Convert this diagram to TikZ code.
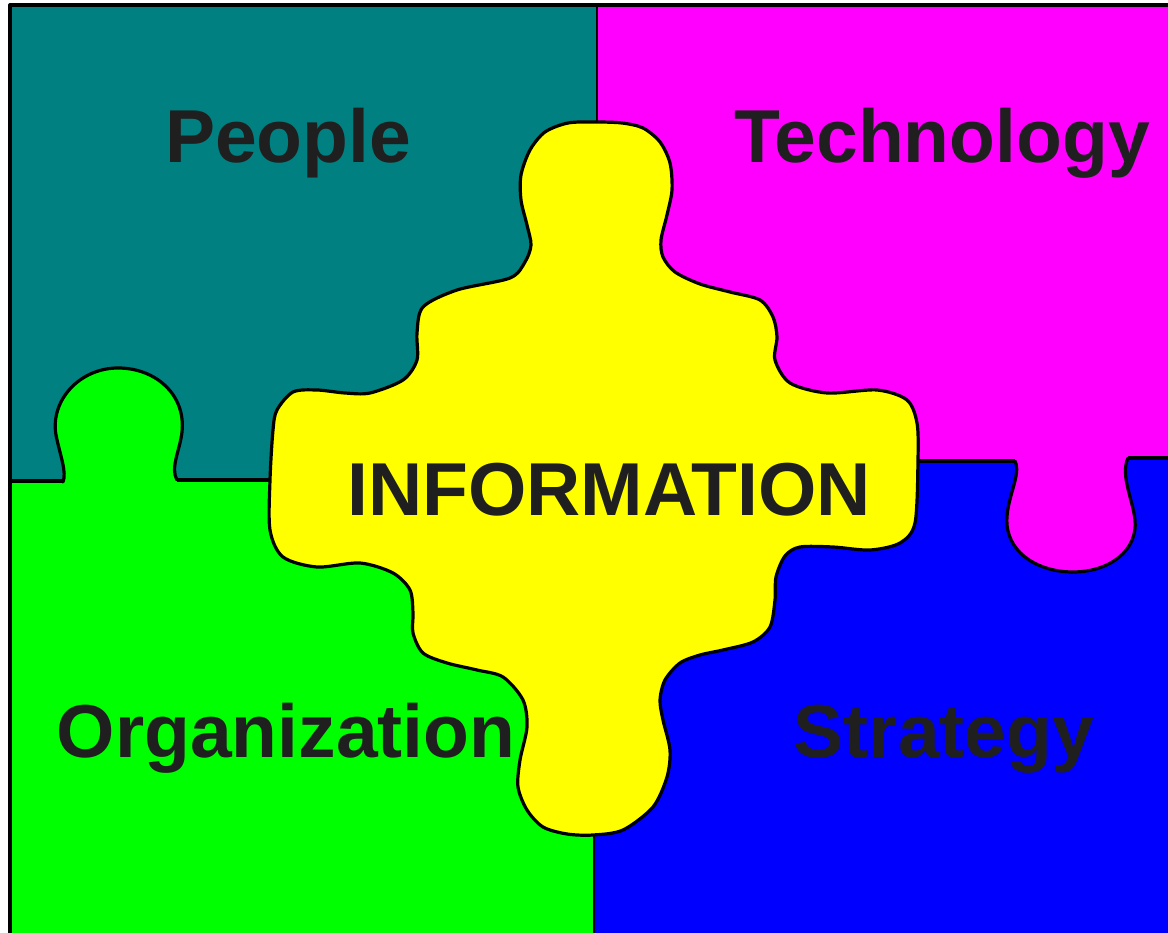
\documentclass[tikz,border=0pt]{standalone}
\usepackage{fontspec}
\setmainfont{Liberation Sans}
\definecolor{cteal}{HTML}{008080}
\definecolor{cmag}{HTML}{FF00FF}
\definecolor{cgreen}{HTML}{00FF00}
\definecolor{cblue}{HTML}{0000FF}
\definecolor{cyel}{HTML}{FFFF00}
\definecolor{ctext}{HTML}{1F1F1F}
\begin{document}
\begin{tikzpicture}[x=1pt,y=-1pt,
  edge/.style={draw=black,line width=3.2pt,line join=round,line cap=round},
  thinedge/.style={draw=black,line width=2.6pt},
  lbl/.style={text=ctext,font=\fontsize{75}{80}\selectfont\bfseries,inner sep=0pt,anchor=base}]
\useasboundingbox (0,0) rectangle (1168,933);
\fill[white] (0,0) rectangle (1168,933);
% quadrants
\fill[cteal] (10,5) rectangle (597,481);
\fill[cmag] (597,5) rectangle (1168,460);
\fill[cgreen] (10,481) rectangle (594,933);
\fill[cblue] (594,460) rectangle (1168,933);
% dividers
\draw[thinedge] (597,5) -- (597,130);
\draw[thinedge] (594,820) -- (594,933);
\draw[edge] (10,481) -- (63,481);
\draw[edge] (177,480) -- (280,480);
\draw[edge] (905,461) -- (1015,461);
\draw[edge] (1128,458) -- (1168,458);
% green tab
\fill[cgreen] (63,482) .. controls (67,472) and (60,455) .. (56,435)
  .. controls (50,400) and (80,368) .. (118,368)
  .. controls (156,368) and (186,395) .. (182,432)
  .. controls (180,450) and (170,468) .. (177,480) -- (177,486) -- (63,486) -- cycle;
\draw[edge] (63,482) .. controls (67,472) and (60,455) .. (56,435)
  .. controls (50,400) and (80,368) .. (118,368)
  .. controls (156,368) and (186,395) .. (182,432)
  .. controls (180,450) and (170,468) .. (177,480);
% magenta tab
\fill[cmag] (1015,461) .. controls (1022,475) and (1005,500) .. (1007,525)
  .. controls (1010,555) and (1040,572) .. (1073,572)
  .. controls (1110,572) and (1138,550) .. (1135,520)
  .. controls (1133,500) and (1120,475) .. (1128,458) -- (1128,454) -- (1015,454) -- cycle;
\draw[edge] (1015,461) .. controls (1022,475) and (1005,500) .. (1007,525)
  .. controls (1010,555) and (1040,572) .. (1073,572)
  .. controls (1110,572) and (1138,550) .. (1135,520)
  .. controls (1133,500) and (1120,475) .. (1128,458);
% outer border
\draw[edge,line cap=butt] (10,933) -- (10,5) -- (1168,5);
% information piece
\draw[edge,fill=cyel] plot[smooth cycle,tension=0.5] coordinates {
 (595,122) (622,123) (643,128) (660,142) (670,163) (672,190) (667,215)
 (661,240) (663,257) (675,272) (700,284) (730,292) (760,300) (773,317)
 (777,337)
 (775,360) (790,383) (827,393) (877,390) (907,400) (917,423) (918,460)
 (915,523) (900,543) (870,550) (833,547) (800,547) (785,556) (776,577)
 (775,600) (770,627) (753,642) (723,650) (700,655) (680,663) (665,680)
 (660,700) (663,720) (670,750) (667,777) (653,807) (623,830) (593,835)
 (567,834) (543,827) (527,810) (518,787) (520,760) (527,727) (523,700)
 (503,677) (477,670) (447,663) (423,653) (413,633) (413,613) (410,590)
 (393,573) (360,563) (317,567) (283,557) (270,530) (270,480) (273,430)
 (277,410) (293,392) (317,390) (345,393) (370,393) (403,380) (417,360)
 (417,333) (423,307) (457,290) (510,278) (525,262) (531,245) (527,225)
 (521,200) (521,175) (530,150) (545,132) (568,123)};
% labels
\node[lbl] (people) at (288,163) {People};
\node[lbl] (tech) at (942,163) {Technology};
\node[lbl] (info) at (609,515) {INFORMATION};
\node[lbl] (org) at (286,757) {Organization};
\node[lbl] (strat) at (944,757) {Strategy};
\end{tikzpicture}
\end{document}
